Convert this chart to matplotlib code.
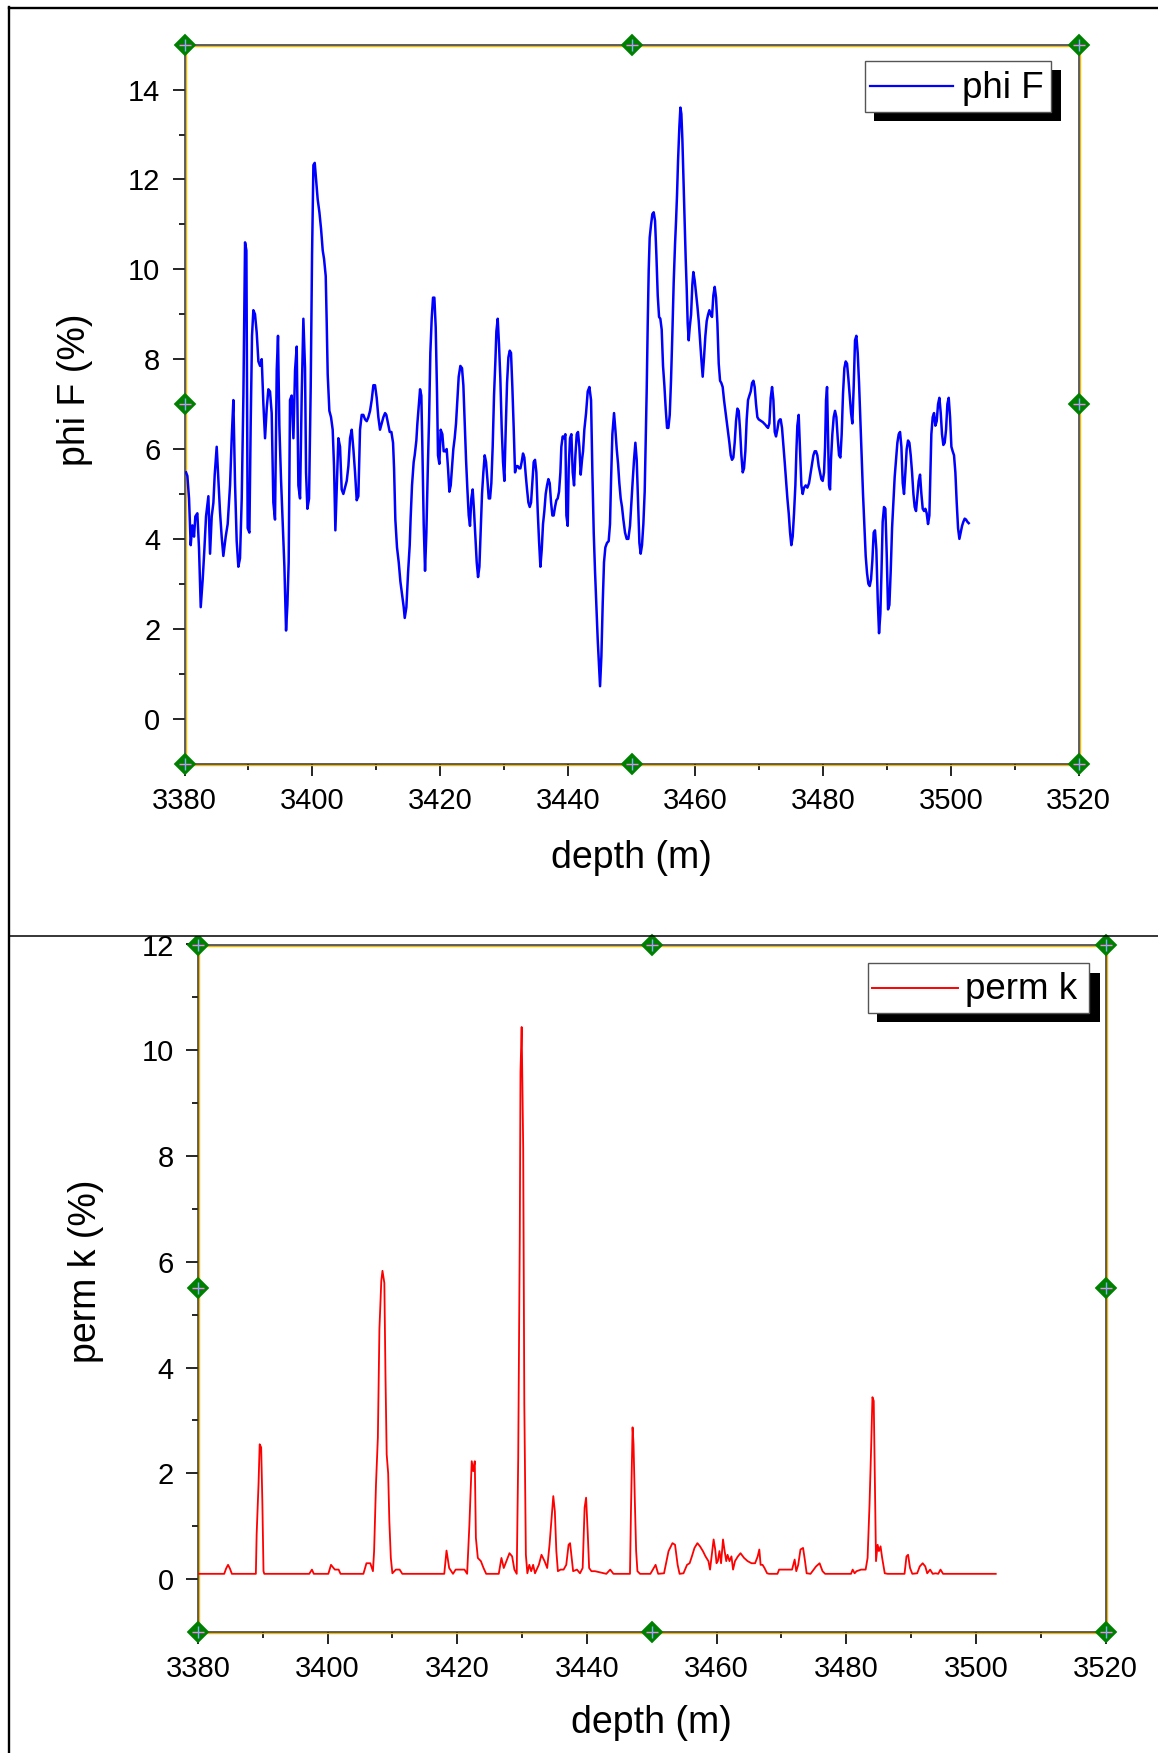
import matplotlib
matplotlib.use("Agg")
import matplotlib.pyplot as plt
from matplotlib.lines import Line2D
from matplotlib.patches import Rectangle
from matplotlib.ticker import MultipleLocator
import matplotlib.transforms as mtransforms

plt.rcParams['font.family'] = ['Liberation Sans', 'DejaVu Sans']

# ---------------- data ----------------
phi_depth = [
    3380.24, 3380.45, 3380.71, 3380.97, 3381.23, 3381.49, 3381.70, 3382.01, 3382.27, 3382.54,
    3382.85, 3383.11, 3383.37, 3383.74, 3384.00, 3384.26, 3384.52, 3384.73, 3385.04, 3385.30,
    3385.56, 3385.82, 3386.08, 3386.45, 3386.76, 3387.13, 3387.39, 3387.65, 3387.91, 3388.17,
    3388.43, 3388.69, 3388.96, 3389.22, 3389.48, 3389.69, 3389.89, 3390.16, 3390.36, 3390.57,
    3390.78, 3391.04, 3391.30, 3391.57, 3391.83, 3392.09, 3392.35, 3392.61, 3392.87, 3393.13,
    3393.39, 3393.65, 3393.91, 3394.17, 3394.44, 3394.64, 3394.85, 3395.11, 3395.38, 3395.64,
    3395.90, 3396.11, 3396.31, 3396.52, 3396.78, 3397.05, 3397.31, 3397.57, 3397.83, 3398.09,
    3398.35, 3398.61, 3398.87, 3399.03, 3399.24, 3399.50, 3399.76, 3399.97, 3400.18, 3400.39,
    3400.59, 3400.85, 3401.12, 3401.38, 3401.64, 3401.85, 3402.11, 3402.26, 3402.42, 3402.68,
    3402.94, 3403.20, 3403.41, 3403.62, 3403.83, 3404.09, 3404.35, 3404.61, 3404.87, 3405.13,
    3405.40, 3405.66, 3405.92, 3406.18, 3406.44, 3406.70, 3406.96, 3407.22, 3407.48, 3407.74,
    3408.00, 3408.27, 3408.53, 3408.79, 3409.05, 3409.31, 3409.57, 3409.83, 3410.09, 3410.35,
    3410.61, 3410.87, 3411.14, 3411.40,
    3411.60, 3411.87, 3412.13, 3412.39, 3412.65, 3412.81, 3413.01, 3413.27, 3413.54, 3413.80,
    3414.06, 3414.32, 3414.48, 3414.74, 3415.00, 3415.26, 3415.41, 3415.62, 3415.88, 3416.04,
    3416.30, 3416.46, 3416.67, 3416.88, 3417.08, 3417.24, 3417.45, 3417.66, 3417.87, 3418.08,
    3418.29, 3418.49, 3418.70, 3418.91, 3419.12, 3419.33, 3419.54, 3419.69, 3419.90, 3420.11,
    3420.37, 3420.58, 3420.84, 3421.05, 3421.26, 3421.47, 3421.68, 3421.89, 3422.09, 3422.30,
    3422.51, 3422.72, 3422.93, 3423.19, 3423.45, 3423.66, 3423.87, 3424.08, 3424.29, 3424.50,
    3424.70, 3424.91, 3425.12, 3425.33, 3425.54, 3425.75, 3425.96, 3426.17, 3426.37, 3426.58,
    3426.79, 3427.00, 3427.21, 3427.42, 3427.63, 3427.84, 3428.04, 3428.25, 3428.46, 3428.67,
    3428.83, 3429.04, 3429.24, 3429.45, 3429.66, 3429.87, 3430.08, 3430.29, 3430.50, 3430.71,
    3430.92, 3431.12, 3431.33, 3431.54, 3431.75, 3431.96, 3432.17, 3432.38, 3432.59, 3432.79,
    3433.00, 3433.21, 3433.42, 3433.63, 3433.84, 3434.05, 3434.26, 3434.46, 3434.67, 3434.88,
    3435.09, 3435.30, 3435.51, 3435.72, 3435.93, 3436.13, 3436.34, 3436.55, 3436.76, 3436.97,
    3437.18, 3437.39, 3437.60, 3437.80, 3438.01, 3438.22, 3438.43, 3438.64, 3438.85, 3439.00,
    3439.21, 3439.42, 3439.63, 3439.79, 3440.00, 3440.15, 3440.36, 3440.57, 3440.78, 3440.99,
    3441.20, 3441.41, 3441.61, 3441.82, 3442.03, 3442.24, 3442.40,
    3442.60, 3442.87, 3443.13, 3443.39, 3443.65, 3443.86, 3444.07, 3444.27, 3444.48, 3444.69,
    3444.90, 3445.06, 3445.27, 3445.48, 3445.68, 3445.89, 3446.15, 3446.41, 3446.62, 3446.78,
    3446.99, 3447.25, 3447.46, 3447.67, 3447.88, 3448.08, 3448.29, 3448.50, 3448.71, 3448.97,
    3449.23, 3449.49, 3449.75, 3449.96, 3450.17, 3450.38, 3450.59, 3450.80, 3451.01, 3451.22,
    3451.42, 3451.63, 3451.84, 3452.05, 3452.21, 3452.36, 3452.52, 3452.68, 3452.83, 3453.04,
    3453.25, 3453.46, 3453.67, 3453.88, 3454.09, 3454.30, 3454.50, 3454.71, 3454.92, 3455.13,
    3455.34, 3455.55, 3455.76, 3455.97, 3456.17, 3456.38, 3456.59, 3456.80, 3456.96, 3457.11,
    3457.27, 3457.48, 3457.64, 3457.79, 3457.95, 3458.11, 3458.31, 3458.47, 3458.63, 3458.78,
    3458.94, 3459.10, 3459.31, 3459.51, 3459.67, 3459.88, 3460.09, 3460.30, 3460.51, 3460.71,
    3460.92, 3461.13, 3461.34, 3461.55, 3461.76, 3461.97, 3462.18, 3462.38, 3462.59, 3462.80,
    3463.01, 3463.22, 3463.43, 3463.64, 3463.85, 3464.05, 3464.26, 3464.47, 3464.68, 3464.89,
    3465.10, 3465.31, 3465.52, 3465.72, 3465.93, 3466.14, 3466.35, 3466.56, 3466.77, 3466.98,
    3467.19, 3467.40, 3467.60, 3467.81, 3468.02, 3468.23, 3468.44, 3468.65, 3468.86, 3469.07,
    3469.27, 3469.48, 3469.69, 3469.90, 3470.11, 3470.32, 3470.53, 3470.74, 3470.94, 3471.15,
    3471.36, 3471.57, 3471.78, 3471.99, 3472.20, 3472.41, 3472.61, 3472.82, 3473.03, 3473.24,
    3473.34, 3473.55, 3473.76, 3473.97, 3474.18, 3474.39, 3474.60, 3474.81, 3475.01, 3475.22,
    3475.43, 3475.64, 3475.80, 3475.95, 3476.16, 3476.37, 3476.58, 3476.79, 3477.00, 3477.26,
    3477.52, 3477.78, 3478.04, 3478.25, 3478.46, 3478.67, 3478.88, 3479.08, 3479.29, 3479.50,
    3479.71, 3479.92, 3480.13, 3480.29, 3480.44, 3480.60, 3480.75, 3480.91, 3481.07, 3481.22,
    3481.43, 3481.64, 3481.85, 3482.06, 3482.27, 3482.48, 3482.69, 3482.89, 3483.10, 3483.31,
    3483.52, 3483.73, 3483.94, 3484.15, 3484.36, 3484.56, 3484.77, 3484.98, 3485.19, 3485.40,
    3485.61, 3485.82, 3486.03, 3486.23, 3486.44, 3486.65, 3486.86, 3487.07, 3487.28, 3487.49,
    3487.70, 3487.90, 3488.11, 3488.32, 3488.53, 3488.74, 3488.95, 3489.11, 3489.31, 3489.52,
    3489.73, 3489.94, 3490.15, 3490.36, 3490.57, 3490.78, 3490.98, 3491.19, 3491.40, 3491.61,
    3491.82, 3492.03, 3492.24, 3492.45, 3492.65, 3492.86, 3493.07, 3493.28, 3493.49, 3493.70,
    3493.91, 3494.12, 3494.32, 3494.53, 3494.74, 3494.95, 3495.16, 3495.37, 3495.58, 3495.79,
    3495.99, 3496.20, 3496.41, 3496.62, 3496.78, 3496.93, 3497.14, 3497.35, 3497.56, 3497.77,
    3497.98, 3498.19, 3498.40, 3498.60, 3498.81, 3499.02, 3499.23, 3499.44, 3499.65, 3499.86,
    3500.07, 3500.27, 3500.48, 3500.69, 3500.90, 3501.11, 3501.32, 3501.53, 3501.74, 3501.94,
    3502.15, 3502.36, 3502.57, 3502.78,
]
phi_value = [
    5.48, 5.40, 4.90, 3.86, 4.30, 4.05, 4.50, 4.57, 3.80, 2.48,
    3.10, 3.76, 4.50, 4.95, 3.67, 4.50, 4.80, 5.43, 6.05, 5.33,
    4.60, 4.05, 3.62, 4.05, 4.33, 5.19, 6.24, 7.09, 5.24, 3.95,
    3.38, 3.57, 4.90, 7.19, 10.60, 10.42, 4.24, 4.14, 6.52, 8.52,
    9.09, 9.00, 8.60, 7.95, 7.85, 8.00, 7.00, 6.24, 6.90, 7.33,
    7.28, 6.80, 4.81, 4.43, 7.76, 8.52, 6.52, 5.33, 4.33, 3.38,
    1.96, 2.53, 3.48, 7.09, 7.19, 6.24, 7.76, 8.28, 5.19, 4.90,
    7.19, 8.90, 7.80, 5.48, 4.67, 4.90, 7.38, 10.32, 12.32, 12.37,
    12.03, 11.56, 11.27, 10.90, 10.42, 10.23, 9.85, 8.85, 7.66, 6.85,
    6.71, 6.43, 5.62, 4.19, 5.10, 6.24, 6.05, 5.10, 5.00, 5.14,
    5.29, 5.62, 6.24, 6.43, 6.00, 5.48, 4.86, 4.95, 6.43, 6.76,
    6.76, 6.66, 6.62, 6.71, 6.85, 7.09, 7.42, 7.42, 7.14, 6.71,
    6.43, 6.57, 6.71, 6.80,
    6.76, 6.57, 6.38, 6.38, 6.14, 5.57, 4.43, 3.81, 3.48, 3.05,
    2.77, 2.48, 2.24, 2.48, 3.24, 3.86, 4.48, 5.19, 5.71, 5.86,
    6.19, 6.57, 6.95, 7.33, 7.19, 6.05, 4.33, 3.29, 4.14, 5.48,
    6.66, 8.14, 8.90, 9.37, 9.37, 8.71, 7.23, 5.86, 5.67, 6.43,
    6.33, 5.95, 5.95, 6.00, 5.57, 5.05, 5.19, 5.62, 6.00, 6.24,
    6.57, 7.09, 7.61, 7.85, 7.80, 7.42, 6.62, 5.76, 5.10, 4.52,
    4.29, 4.90, 5.10, 4.62, 4.05, 3.48, 3.15, 3.38, 4.19, 5.00,
    5.48, 5.86, 5.71, 5.33, 4.90, 4.90, 5.24, 6.05, 7.19, 7.95,
    8.62, 8.90, 8.33, 7.57, 6.47, 5.71, 5.29, 6.43, 7.47, 8.04,
    8.19, 8.14, 7.38, 6.47, 5.48, 5.62, 5.62, 5.57, 5.57, 5.71,
    5.90, 5.81, 5.43, 5.10, 4.81, 4.71, 4.81, 5.24, 5.71, 5.76,
    5.48, 4.62, 3.95, 3.38, 3.76, 4.33, 4.62, 5.00, 5.19, 5.33,
    5.24, 4.81, 4.52, 4.52, 4.71, 4.86, 4.90, 5.05, 5.48, 6.05,
    6.28, 6.24, 6.33, 4.52, 4.29, 5.57, 6.24, 6.33, 5.48, 5.19,
    5.86, 6.33, 6.38, 6.05, 5.43, 5.76, 5.95,
    6.43, 6.80, 7.28, 7.38, 7.09, 5.48, 4.14, 3.29, 2.53, 1.77,
    1.15, 0.72, 1.39, 2.58, 3.48, 3.81, 3.91, 3.95, 4.33, 5.29,
    6.33, 6.80, 6.43, 6.00, 5.67, 5.24, 4.90, 4.71, 4.43, 4.14,
    4.00, 4.00, 4.29, 4.81, 5.29, 5.76, 6.14, 5.76, 4.81, 3.91,
    3.67, 3.86, 4.33, 5.05, 6.14, 7.28, 8.75, 9.99, 10.70, 10.99,
    11.23, 11.27, 11.08, 10.32, 9.42, 8.94, 8.90, 8.66, 7.85, 7.42,
    6.90, 6.47, 6.47, 6.76, 7.52, 8.56, 9.71, 10.56, 11.08, 11.65,
    12.41, 13.18, 13.60, 13.46, 12.89, 12.03, 11.04, 10.23, 9.56, 8.80,
    8.42, 8.71, 8.99, 9.66, 9.94, 9.75, 9.47, 9.18, 8.85, 8.42,
    8.00, 7.61, 8.04, 8.52, 8.85, 8.99, 9.09, 8.99, 8.94, 9.42,
    9.61, 9.37, 8.80, 7.90, 7.52, 7.47, 7.38, 7.09, 6.85, 6.62,
    6.38, 6.14, 5.86, 5.76, 5.81, 6.14, 6.62, 6.90, 6.85, 6.43,
    5.86, 5.48, 5.57, 5.95, 6.66, 7.09, 7.19, 7.28, 7.47, 7.52,
    7.38, 7.00, 6.71, 6.66, 6.64, 6.62, 6.60, 6.57, 6.54, 6.50,
    6.47, 6.57, 7.14, 7.38, 7.09, 6.38, 6.28, 6.43, 6.62, 6.66,
    6.66, 6.47, 6.09, 5.71, 5.29, 4.90, 4.57, 4.14, 3.86, 4.05,
    4.57, 5.19, 5.95, 6.52, 6.76, 5.95, 5.19, 5.00, 5.14, 5.19,
    5.14, 5.24, 5.48, 5.67, 5.86, 5.95, 5.95, 5.86, 5.62, 5.48,
    5.33, 5.29, 5.48, 6.05, 7.09, 7.38, 6.33, 5.19, 5.10, 5.76,
    6.33, 6.71, 6.85, 6.71, 6.24, 5.86, 5.81, 6.33, 7.23, 7.80,
    7.95, 7.90, 7.57, 7.19, 6.80, 6.57, 7.38, 8.42, 8.52, 8.14,
    7.47, 6.62, 5.76, 5.00, 4.33, 3.62, 3.24, 3.00, 2.95, 3.10,
    3.53, 4.14, 4.19, 3.76, 2.67, 1.90, 2.34, 3.19, 4.38, 4.71,
    4.67, 3.67, 2.43, 2.53, 3.29, 4.24, 4.81, 5.38, 5.76, 6.14,
    6.33, 6.38, 6.05, 5.24, 5.00, 5.48, 6.00, 6.19, 6.14, 5.86,
    5.48, 5.00, 4.71, 4.62, 4.95, 5.29, 5.43, 5.00, 4.67, 4.62,
    4.67, 4.57, 4.33, 4.52, 5.48, 6.33, 6.71, 6.80, 6.52, 6.62,
    7.00, 7.14, 6.80, 6.33, 6.09, 6.14, 6.43, 7.00, 7.14, 6.71,
    6.05, 5.95, 5.86, 5.48, 4.81, 4.24, 4.00, 4.14, 4.29, 4.38,
    4.45, 4.43, 4.38, 4.35,
]

perm_depth = [
    3380.00, 3384.06, 3384.35, 3384.65, 3384.94, 3385.24, 3388.94, 3389.06, 3389.35, 3389.53,
    3389.76, 3389.94, 3390.12, 3390.24, 3397.18, 3397.59, 3397.88, 3400.12, 3400.53, 3401.12,
    3401.71, 3402.00, 3405.53, 3406.00, 3406.59, 3407.00, 3407.18, 3407.47, 3407.76, 3408.00,
    3408.29, 3408.47, 3408.76, 3408.94, 3409.12, 3409.35, 3409.53, 3409.76, 3410.00, 3410.53,
    3411.12, 3411.53, 3418.00, 3418.35, 3418.76, 3419.35, 3419.76, 3421.12, 3421.53, 3421.88,
    3422.24, 3422.47, 3422.71, 3422.88, 3423.18, 3423.65, 3424.06, 3424.47, 3426.41, 3426.82,
    3427.18, 3427.59, 3428.06, 3428.47, 3428.82, 3429.18, 3429.41, 3429.65, 3429.76, 3429.94,
    3430.18, 3430.35, 3430.59, 3430.82, 3431.12, 3431.41, 3431.71, 3432.00, 3432.59, 3433.00,
    3433.47, 3433.88, 3434.24, 3434.59, 3434.82, 3435.06, 3435.29, 3435.53, 3435.94, 3436.41,
    3436.82, 3437.18, 3437.41, 3437.65, 3437.88, 3438.47, 3438.94, 3439.35, 3439.65, 3439.88,
    3440.12, 3440.35, 3440.70, 3441.25, 3443.00, 3443.60, 3444.10, 3446.65, 3446.80, 3447.05,
    3447.20, 3447.40, 3447.60, 3447.80, 3448.20, 3449.80, 3450.60, 3451.00, 3451.90, 3452.60,
    3453.20, 3453.60, 3454.00, 3454.30, 3454.90, 3455.45, 3455.85, 3456.20, 3456.60, 3457.05,
    3457.45, 3457.90, 3458.30, 3458.75, 3459.00, 3459.30, 3459.55, 3459.80, 3460.00, 3460.20,
    3460.45, 3460.70, 3461.00, 3461.25, 3461.50, 3461.70, 3462.00, 3462.30, 3462.55, 3462.85,
    3463.30, 3463.70, 3464.25, 3464.80, 3465.40, 3465.95, 3466.35, 3466.60, 3466.80, 3467.10,
    3467.40, 3467.80, 3468.10, 3469.40, 3469.65, 3471.65, 3472.05, 3472.30, 3472.60, 3472.95,
    3473.35, 3473.65, 3473.90, 3474.50, 3475.35, 3475.90, 3476.35, 3476.75, 3480.75, 3481.00,
    3481.30, 3481.60, 3482.30, 3483.00, 3483.30, 3483.60, 3483.85, 3484.05, 3484.25, 3484.40,
    3484.60, 3484.85, 3485.05, 3485.30, 3485.55, 3485.95, 3486.40, 3489.00, 3489.30, 3489.55,
    3489.85, 3490.20, 3490.95, 3491.35, 3491.80, 3492.20, 3492.50, 3492.95, 3493.35, 3493.80,
    3494.20, 3494.55, 3494.95, 3503.07,
]
perm_value = [
    0.10, 0.10, 0.20, 0.27, 0.20, 0.10, 0.10, 0.84, 1.79, 2.55,
    2.49, 1.47, 0.15, 0.10, 0.10, 0.18, 0.10, 0.10, 0.27, 0.18,
    0.18, 0.10, 0.10, 0.30, 0.30, 0.15, 0.53, 1.79, 2.68, 4.73,
    5.64, 5.83, 5.60, 3.80, 2.36, 2.00, 1.10, 0.40, 0.11, 0.18,
    0.18, 0.10, 0.10, 0.54, 0.21, 0.10, 0.18, 0.18, 0.10, 1.03,
    2.23, 2.04, 2.23, 0.78, 0.40, 0.34, 0.21, 0.10, 0.10, 0.40,
    0.21, 0.34, 0.49, 0.43, 0.18, 0.10, 2.30, 6.46, 9.59, 10.44,
    8.14, 3.31, 0.46, 0.11, 0.27, 0.15, 0.27, 0.11, 0.27, 0.46,
    0.34, 0.21, 0.65, 1.22, 1.57, 1.28, 0.53, 0.15, 0.18, 0.18,
    0.27, 0.65, 0.68, 0.40, 0.15, 0.18, 0.11, 0.21, 1.35, 1.54,
    0.91, 0.21, 0.15, 0.15, 0.10, 0.18, 0.10, 0.10, 1.28, 2.87,
    2.55, 1.47, 0.53, 0.15, 0.10, 0.10, 0.27, 0.10, 0.11, 0.53,
    0.68, 0.65, 0.27, 0.10, 0.11, 0.27, 0.30, 0.43, 0.59, 0.68,
    0.62, 0.53, 0.43, 0.34, 0.18, 0.49, 0.75, 0.56, 0.30, 0.34,
    0.53, 0.30, 0.75, 0.53, 0.34, 0.46, 0.34, 0.43, 0.18, 0.34,
    0.43, 0.49, 0.40, 0.34, 0.30, 0.30, 0.43, 0.56, 0.27, 0.27,
    0.21, 0.11, 0.10, 0.10, 0.18, 0.18, 0.37, 0.15, 0.27, 0.56,
    0.59, 0.34, 0.11, 0.10, 0.24, 0.30, 0.15, 0.10, 0.10, 0.18,
    0.11, 0.15, 0.18, 0.18, 0.40, 1.41, 2.49, 3.44, 3.37, 2.11,
    0.34, 0.65, 0.53, 0.62, 0.40, 0.11, 0.10, 0.10, 0.43, 0.46,
    0.21, 0.10, 0.11, 0.24, 0.30, 0.24, 0.11, 0.18, 0.10, 0.11,
    0.10, 0.18, 0.10, 0.10,
]

depth_range = [3380, 3520]
depth_ticks = [3380, 3400, 3420, 3440, 3460, 3480, 3500, 3520]
phi_range = [-1, 15]
phi_ticks = [0, 2, 4, 6, 8, 10, 12, 14]
perm_range = [-1, 12]
perm_ticks = [0, 2, 4, 6, 8, 10, 12]

phi_label = "phi F"
perm_label = "perm k"
x_label = "depth (m)"
phi_ylabel = "phi F (%)"
perm_ylabel = "perm k (%)"

# ---------------- figure ----------------
W, H = 1158, 1753
fig = plt.figure(figsize=(W / 100, H / 100), dpi=100)
fig.patch.set_facecolor("white")


def fr(x0, y0, x1, y1):
    """pixel box (top-left origin) -> figure fraction rect"""
    return [x0 / W, 1 - y1 / H, (x1 - x0) / W, (y1 - y0) / H]


ax1 = fig.add_axes(fr(184.5, 44.7, 1078.7, 763.5))
ax2 = fig.add_axes(fr(197.9, 944.5, 1105.5, 1632.0))


def style(ax, ylim, yticks):
    ax.set_xlim(*depth_range)
    ax.set_ylim(*ylim)
    ax.set_xticks(depth_ticks)
    ax.set_yticks(yticks)
    ax.xaxis.set_minor_locator(MultipleLocator(10))
    ax.yaxis.set_minor_locator(MultipleLocator(1))
    ax.tick_params(which="both", direction="out", top=False, right=False,
                   width=1.2, color="black")
    ax.tick_params(which="major", length=8.6, labelsize=21)
    ax.tick_params(which="minor", length=4.3)
    ax.tick_params(axis="x", which="major", pad=8.0)
    ax.tick_params(axis="y", which="major", pad=8.8)
    for s in ax.spines.values():
        s.set_color("#333333")
        s.set_linewidth(1.1)
        s.set_zorder(3)
    # yellow selection frame, slightly offset
    tr = mtransforms.offset_copy(ax.transAxes, fig=fig, x=1.3, y=-1.3, units="dots")
    ax.add_patch(Rectangle((0, 0), 1, 1, transform=tr, fill=False,
                           edgecolor="#F2B800", linewidth=1.0, clip_on=False, zorder=2.9))
    # green selection handles
    hx = [0, 0.5, 1, 0, 1, 0, 0.5, 1]
    hy = [0, 0, 0, 0.5, 0.5, 1, 1, 1]
    ax.plot(hx, hy, transform=ax.transAxes, ls="none", marker="D", ms=11,
            mfc="#008000", mec="#008000", mew=0.3, clip_on=False, zorder=6)
    ax.plot(hx, hy, transform=ax.transAxes, ls="none", marker="_", ms=9,
            mec="#FF80FF", mew=1.0, clip_on=False, zorder=7)
    ax.plot(hx, hy, transform=ax.transAxes, ls="none", marker="|", ms=9,
            mec="#80B0FF", mew=1.0, clip_on=False, zorder=7)


style(ax1, phi_range, phi_ticks)
style(ax2, perm_range, perm_ticks)

ax1.plot(phi_depth, phi_value, color="#0000FF", lw=1.8, zorder=4)
ax2.plot(perm_depth, perm_value, color="#FF0000", lw=1.3, zorder=4)

ax1.set_xlabel(x_label, fontsize=27)
ax1.xaxis.set_label_coords(0.5, -0.106)
ax1.set_ylabel(phi_ylabel, fontsize=27)
ax1.yaxis.set_label_coords(-0.1023, 0.52)

ax2.set_xlabel(x_label, fontsize=27)
ax2.xaxis.set_label_coords(0.5, -0.1056)
ax2.set_ylabel(perm_ylabel, fontsize=27)
ax2.yaxis.set_label_coords(-0.1035, 0.525)


# ---------------- legends (Origin style, black shadow) ----------------
def px(x, y):
    return (x / W, 1 - y / H)


def legend_box(box, shadow, line, text_xy, color, label, lw):
    sx0, sy0, sx1, sy1 = shadow
    fig.add_artist(Rectangle(px(sx0, sy1), (sx1 - sx0) / W, (sy1 - sy0) / H,
                             transform=fig.transFigure, facecolor="black",
                             edgecolor="none", zorder=10))
    bx0, by0, bx1, by1 = box
    fig.add_artist(Rectangle(px(bx0, by1), (bx1 - bx0) / W, (by1 - by0) / H,
                             transform=fig.transFigure, facecolor="white",
                             edgecolor="#555555", linewidth=1.0, zorder=11))
    lx0, lx1, ly = line
    fig.add_artist(Line2D([lx0 / W, lx1 / W], [1 - ly / H, 1 - ly / H],
                          transform=fig.transFigure, color=color, lw=lw, zorder=12))
    fig.text(text_xy[0] / W, 1 - text_xy[1] / H, label, fontsize=26.5,
             ha="left", va="baseline", zorder=12)


legend_box((864.6, 60.7, 1051.0, 112.0), (874.0, 70.0, 1060.6, 121.3),
           (870.0, 953.4, 85.7), (962.0, 98.3), "#0000FF", phi_label, 1.6)
legend_box((867.9, 963.3, 1088.7, 1013.3), (877.0, 972.7, 1099.7, 1022.3),
           (872.3, 957.8, 987.7), (965.0, 999.3), "#FF0000", perm_label, 1.4)

# ---------------- screenshot frame lines ----------------
fig.add_artist(Line2D([9 / W, 9 / W], [0, 1 - 7 / H], transform=fig.transFigure,
                      color="black", lw=1.7, zorder=20))
fig.add_artist(Line2D([9 / W, 1], [1 - 8 / H, 1 - 8 / H], transform=fig.transFigure,
                      color="black", lw=1.7, zorder=20))
# panel separator (covers what lies just above it in the lower panel)
fig.add_artist(Rectangle(px(100, 935.5), 120 / W, 30 / H, transform=fig.transFigure,
                         facecolor="white", edgecolor="none", zorder=15))
fig.add_artist(Line2D([9 / W, 1], [1 - 936 / H, 1 - 936 / H], transform=fig.transFigure,
                      color="black", lw=1.1, zorder=20))

fig.savefig("out.png", dpi=100, facecolor="white")
